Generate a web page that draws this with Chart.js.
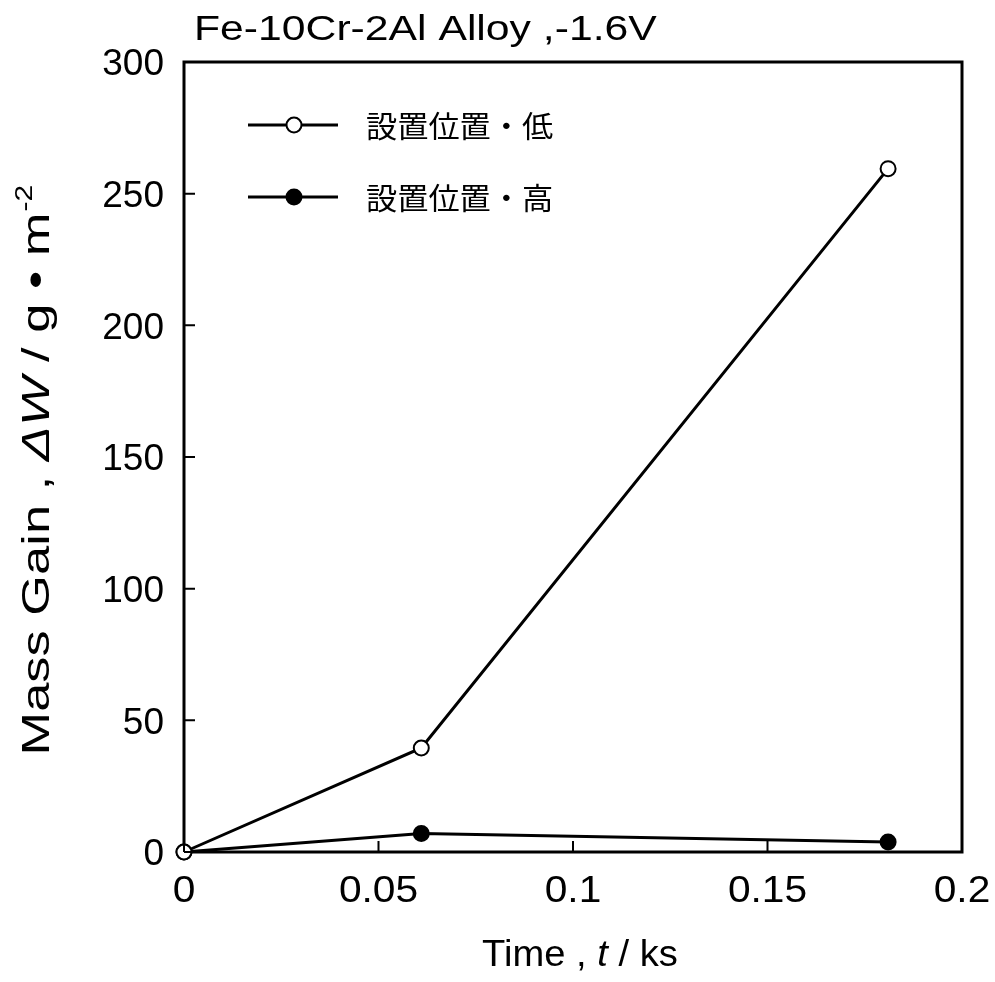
<!DOCTYPE html>
<html>
<head>
<meta charset="utf-8">
<script src="https://cdn.jsdelivr.net/npm/chart.js@4.4.0/dist/chart.umd.min.js"></script>
<style>
  html, body { margin: 0; padding: 0; background: #fff; }
  #wrap { width: 995px; height: 982px; }
</style>
</head>
<body>
<div id="wrap"><canvas id="myChart" width="995" height="982"></canvas></div>
<script>
// データ
var timeKs = [0, 0.061, 0.181];
var gainLow = [0, 39.5, 259.5];
var gainHigh = [0, 7, 3.8];
var seriesNames = ['設置位置・低', '設置位置・高'];
var xTicks = [0, 0.05, 0.1, 0.15, 0.2];
var yTicks = [0, 50, 100, 150, 200, 250, 300];

var chartTitle = 'Fe-10Cr-2Al Alloy ,-1.6V';
var latin = '"Liberation Sans", Arial, sans-serif';
var cjk = '"Noto Sans CJK JP", "Noto Sans CJK SC", sans-serif';

function toPoints(xs, ys) {
    return xs.map(function(x, i) { return { x: x, y: ys[i] }; });
}

// 横に伸ばした文字（原図の書体が横長なので）
function drawParts(c, parts, x, y, size, sx, align, fam) {
    fam = fam || latin;
    var total = 0;
    parts.forEach(function(p) {
        c.font = (p[1] || 'normal') + ' ' + size + 'px ' + fam;
        total += c.measureText(p[0]).width * sx;
    });
    var x0 = align === 'right' ? x - total : align === 'center' ? x - total / 2 : x;
    var left = x0;
    parts.forEach(function(p) {
        c.save();
        c.font = (p[1] || 'normal') + ' ' + size + 'px ' + fam;
        c.textAlign = 'left';
        c.textBaseline = 'alphabetic';
        c.translate(x0, y);
        c.scale(sx, 1);
        c.fillText(p[0], 0, 0);
        x0 += c.measureText(p[0]).width * sx;
        c.restore();
    });
    return { left: left, width: total };
}

// 枠・内向き目盛り・ラベル・タイトル・凡例を描く
var decor = {
    id: 'decor',
    beforeDatasetsDraw: function(chart) {
        var c = chart.ctx;
        var a = chart.chartArea;
        c.save();
        c.strokeStyle = '#000';
        c.lineWidth = 3;
        c.strokeRect(a.left, a.top, a.right - a.left, a.bottom - a.top);
        c.restore();
    },
    afterDraw: function(chart) {
        var c = chart.ctx;
        var a = chart.chartArea;
        var xs = chart.scales.x, ys = chart.scales.y;
        c.save();
        c.strokeStyle = '#000';
        c.fillStyle = '#000';

        c.lineWidth = 2;
        c.beginPath();
        yTicks.forEach(function(v) {
            var py = ys.getPixelForValue(v);
            c.moveTo(a.left, py);
            c.lineTo(a.left + 11, py);
        });
        xTicks.forEach(function(v) {
            var px = xs.getPixelForValue(v);
            c.moveTo(px, a.bottom);
            c.lineTo(px, a.bottom - 11);
        });
        c.stroke();

        // 目盛りラベル
        yTicks.forEach(function(v) {
            var py = ys.getPixelForValue(v);
            drawParts(c, [[String(v)]], 164, py + 0.358 * 37, 37, 1.0, 'right');
        });
        xTicks.forEach(function(v) {
            var px = xs.getPixelForValue(v);
            drawParts(c, [[String(v)]], px, 902, 37, 1.1, 'center');
        });

        // タイトル
        drawParts(c, [[chartTitle]], 194, 40, 35, 1.22, 'left');

        // x軸タイトル
        drawParts(c, [['Time , '], ['t', 'italic'], [' / ks']], 580, 966, 36, 1.06, 'center');

        // y軸タイトル
        c.save();
        c.translate(49, 472);
        c.rotate(-Math.PI / 2);
        var r = drawParts(c, [['Mass Gain , '], ['ΔW', 'italic'], [' / g • m']], -12, 0, 38, 1.38, 'center');
        drawParts(c, [['-2']], r.left + r.width + 1, -17, 24, 1.25, 'left');
        c.restore();

        // 凡例
        chart.data.datasets.forEach(function(ds, i) {
            var ly = 125 + i * 72;
            c.strokeStyle = '#000';
            c.lineWidth = 3;
            c.beginPath();
            c.moveTo(248, ly);
            c.lineTo(338, ly);
            c.stroke();
            c.beginPath();
            c.arc(294, ly, 7.5, 0, Math.PI * 2);
            c.fillStyle = ds.pointBackgroundColor;
            c.fill();
            c.lineWidth = 2;
            c.stroke();
            c.fillStyle = '#000';
            drawParts(c, [[ds.label]], 366, ly + 12, 30, 1.04, 'left', cjk);
        });
        c.restore();
    }
};

var ctx = document.getElementById('myChart');

var myChart = new Chart(ctx, {
    type: 'scatter',
    data: {
        datasets: [{
            label: seriesNames[0],
            data: toPoints(timeKs, gainLow),
            showLine: true,
            clip: false,
            borderColor: '#000',
            borderWidth: 3,
            pointRadius: 7.5,
            pointBorderWidth: 2,
            pointBackgroundColor: '#fff',
            pointBorderColor: '#000'
        }, {
            label: seriesNames[1],
            data: toPoints(timeKs, gainHigh),
            showLine: true,
            clip: false,
            borderColor: '#000',
            borderWidth: 3,
            pointRadius: 7.5,
            pointBorderWidth: 2,
            pointBackgroundColor: '#000',
            pointBorderColor: '#000'
        }]
    },
    options: {
        responsive: false,
        animation: false,
        layout: {
            padding: { left: 0, top: 62, right: 33, bottom: 0 }
        },
        plugins: {
            legend: { display: false },
            tooltip: { enabled: false }
        },
        scales: {
            x: {
                type: 'linear',
                min: 0,
                max: 0.2,
                afterFit: function(scale) { scale.height = 130; },
                afterBuildTicks: function(scale) {
                    scale.ticks = xTicks.map(function(v) { return { value: v }; });
                },
                grid: { display: false, drawTicks: false },
                border: { display: false },
                ticks: { display: false }
            },
            y: {
                type: 'linear',
                min: 0,
                max: 300,
                afterFit: function(scale) { scale.width = 184; },
                afterBuildTicks: function(scale) {
                    scale.ticks = yTicks.map(function(v) { return { value: v }; });
                },
                grid: { display: false, drawTicks: false },
                border: { display: false },
                ticks: { display: false }
            }
        }
    },
    plugins: [decor]
});
</script>
</body>
</html>
